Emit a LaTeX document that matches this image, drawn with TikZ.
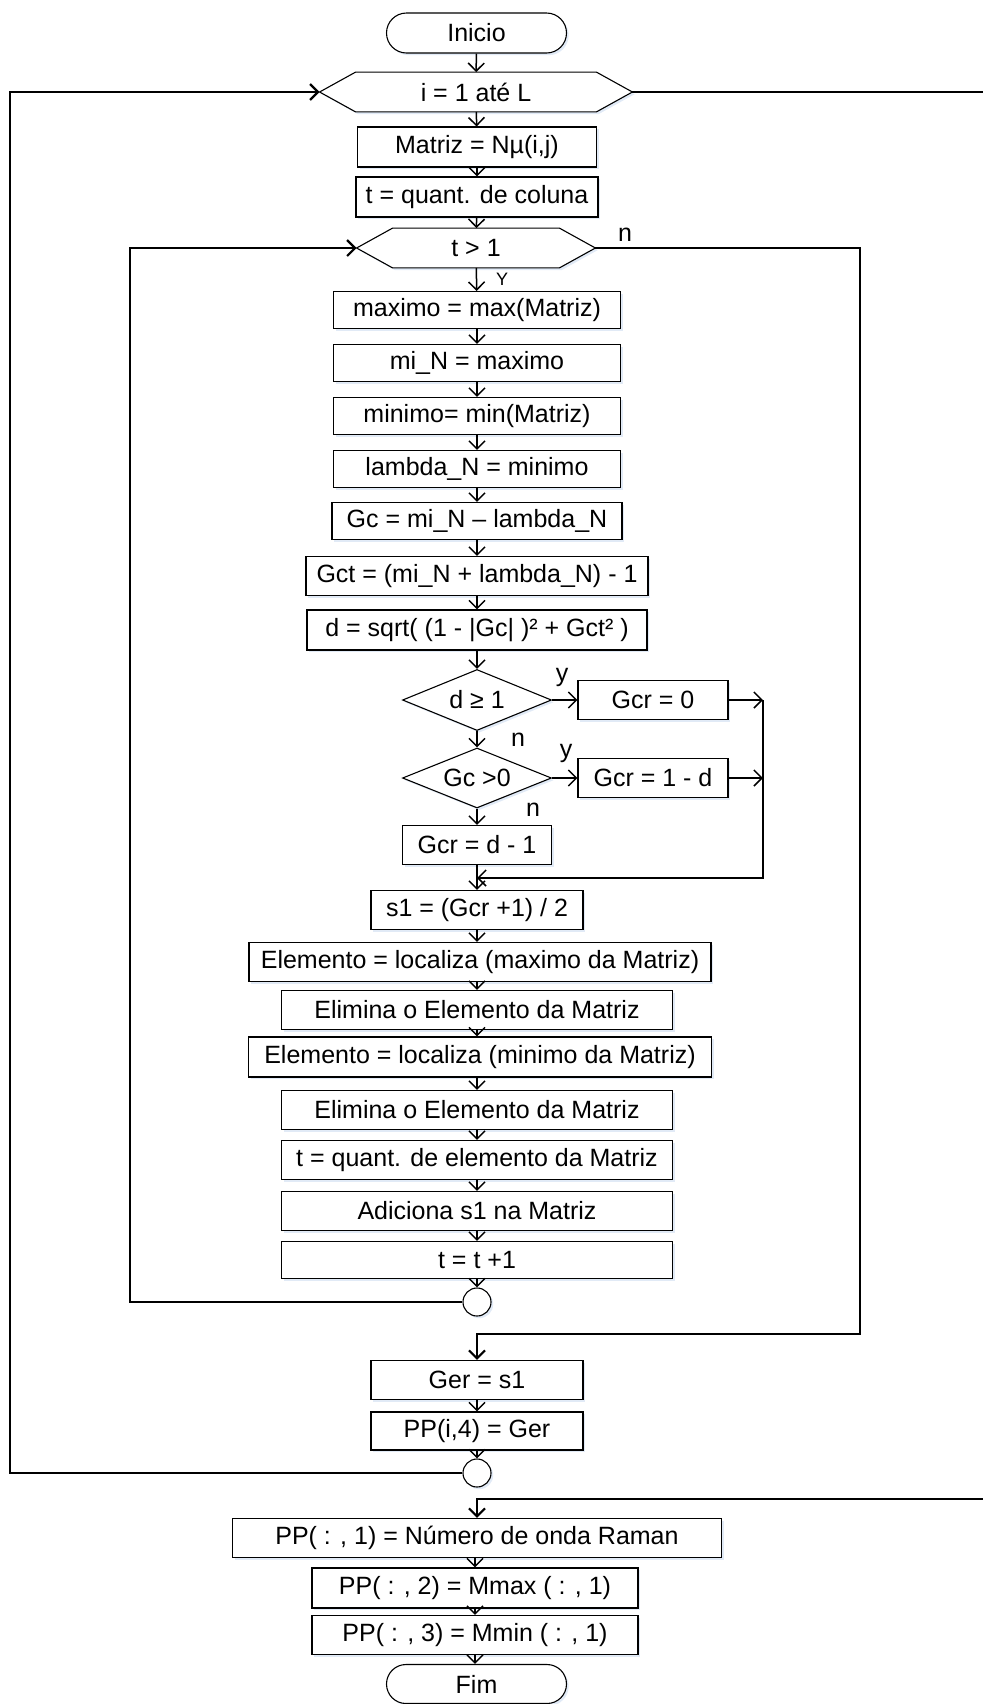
\documentclass[tikz,border=0pt]{standalone}
\usepackage{fontspec}
\setmainfont{Liberation Sans}
\usetikzlibrary{shapes.geometric,shapes.misc,arrows.meta,shadows,calc,backgrounds}
\definecolor{shadowblue}{RGB}{205,220,240}

\begin{document}
\begin{tikzpicture}[x=0.5pt,y=-0.5pt,
  font=\fontsize{12.5}{15}\selectfont,
  boxshadow/.style={drop shadow={shadow xshift=1.1pt,shadow yshift=-1.1pt,fill=shadowblue,opacity=0.6}},
  proc/.style={draw,line width=0.55pt,fill=white,rectangle,inner sep=0pt,
    minimum height=19.5pt,boxshadow},
  term/.style={draw,line width=0.55pt,fill=white,rounded rectangle,inner sep=0pt,
    minimum width=90pt,minimum height=20pt,boxshadow},
  dec/.style={draw,line width=0.55pt,fill=white,diamond,aspect=2.44,inner sep=0pt,
    minimum width=74.5pt,minimum height=30.5pt,boxshadow},
  hexbox/.style={rectangle,inner sep=0pt,minimum height=19.5pt},
  hexline/.style={draw,line width=0.55pt,fill=white,boxshadow},
  joint/.style={draw,line width=0.55pt,fill=white,circle,inner sep=0pt,minimum size=14pt,boxshadow},
  arr/.style={-{Straight Barb[length=4pt,width=8pt]},line width=0.75pt},
  looparr/.style={arr,line width=1.1pt},
  lab/.style={inner sep=0pt},
  smalllab/.style={inner sep=0pt,font=\fontsize{9}{11}\selectfont}
]
\useasboundingbox (0,0) rectangle (983,1704);

% ---- outer loop header ----
\node[term] (inicio) at (476.5,33) {Inicio};
\node[hexbox,minimum width=156pt] (hex1) at (476,92) {i = 1 até L};
\node[proc,minimum width=119.5pt,minimum height=20pt] (matriz) at (477,147) {Matriz = Nµ(i,j)};
\node[proc,minimum width=121pt,minimum height=20pt] (tq) at (477,197) {t = quant. de coluna};

% ---- inner loop ----
\node[hexbox,minimum width=119pt] (hex2) at (476,248) {t > 1};
\node[proc,minimum width=143.5pt,minimum height=18.5pt] (maximo) at (477,310) {maximo = max(Matriz)};
\node[proc,minimum width=143.5pt,minimum height=18.5pt] (miN) at (477,363) {mi\_N = maximo};
\node[proc,minimum width=143.5pt,minimum height=18.5pt] (minimo) at (477,416) {minimo= min(Matriz)};
\node[proc,minimum width=143.5pt,minimum height=18.5pt] (lambda) at (477,469) {lambda\_N = minimo};
\node[proc,minimum width=145pt,minimum height=18.5pt] (gc) at (477,521) {Gc = mi\_N – lambda\_N};
\node[proc,minimum width=171pt] (gct) at (477,576) {Gct = (mi\_N + lambda\_N) - 1};
\node[proc,minimum width=170pt,minimum height=20pt] (dsq) at (477,630) {d = sqrt( (1 - |Gc| )² + Gct² )};

\node[dec] (d1) at (477,700) {d ≥ 1};
\node[proc,minimum width=75pt] (gcr0) at (653,700) {Gcr = 0};
\node[dec,minimum height=30pt] (d2) at (477,778) {Gc >0};
\node[proc,minimum width=75pt] (gcr1) at (653,778) {Gcr = 1 - d};
\node[proc,minimum width=74.5pt] (gcr2) at (477,845) {Gcr = d - 1};
\coordinate (merge) at (763,878);

\node[proc,minimum width=106pt] (s1) at (477,910) {s1 = (Gcr +1) / 2};
\node[proc,minimum width=231pt] (el1) at (480,962) {Elemento = localiza (maximo da Matriz)};
\node[proc,minimum width=195.5pt] (elim1) at (477,1010) {Elimina o Elemento da Matriz};
\node[proc,minimum width=231.5pt,minimum height=20pt] (el2) at (480,1057) {Elemento = localiza (minimo da Matriz)};
\node[proc,minimum width=195.5pt] (elim2) at (477,1110) {Elimina o Elemento da Matriz};
\node[proc,minimum width=195.5pt] (tq2) at (477,1160) {t = quant. de elemento da Matriz};
\node[proc,minimum width=195.5pt] (adic) at (477,1211) {Adiciona s1 na Matriz};
\node[proc,minimum width=195.5pt,minimum height=18.5pt] (tt1) at (477,1260) {t = t +1};
\node[joint] (c1) at (477,1302) {};

% ---- after the inner loop ----
\node[proc,minimum width=106pt] (ger) at (477,1380) {Ger = s1};
\node[proc,minimum width=106pt,minimum height=19pt] (pp4) at (477,1431) {PP(i,4) = Ger};
\node[joint] (c2) at (477,1473) {};

% ---- after the outer loop ----
\node[proc,minimum width=244.5pt] (pp1) at (477,1538) {PP( : , 1) = Número de onda Raman};
\node[proc,minimum width=163pt,minimum height=20pt] (pp2) at (475,1588) {PP( : , 2) = Mmax ( : , 1)};
\node[proc,minimum width=163pt] (pp3) at (475,1635) {PP( : , 3) = Mmin ( : , 1)};
\node[term,minimum height=19.5pt] (fim) at (476.5,1684) {Fim};

% hexagonal loop headers
\begin{pgfonlayer}{background}
  \foreach \h in {hex1,hex2}{
    \path[hexline] (\h.west) -- ($(\h.north west)+(36,0)$) -- ($(\h.north east)+(-36,0)$)
      -- (\h.east) -- ($(\h.south east)+(-36,0)$) -- ($(\h.south west)+(36,0)$) -- cycle;
  }
\end{pgfonlayer}

% ---- main flow ----
\draw[arr] (inicio) -- (hex1);
\draw[arr] (hex1) -- (matriz);
\draw[arr] (matriz) -- (tq);
\draw[arr] (tq) -- (hex2);
\draw[arr] (hex2) -- (maximo);
\node[smalllab] at (502,279) {Y};
\draw[arr] (maximo) -- (miN);
\draw[arr] (miN) -- (minimo);
\draw[arr] (minimo) -- (lambda);
\draw[arr] (lambda) -- (gc);
\draw[arr] (gc) -- (gct);
\draw[arr] (gct) -- (dsq);
\draw[arr] (dsq) -- (d1);

% decisions
\draw[arr] (d1.east) -- (gcr0.west);
\node[lab] at (562,677) {y};
\draw[arr] (d1.south) -- (d2.north);
\node[lab] at (518,740) {n};
\draw[arr] (d2.east) -- (gcr1.west);
\node[lab] at (566,753) {y};
\draw[arr] (d2.south) -- (gcr2.north);
\node[lab] at (533,810) {n};
\draw[arr] (gcr0.east) -- (gcr0.east -| merge);
\draw[arr] (gcr1.east) -- (gcr1.east -| merge);
\draw[arr] (gcr0.east -| merge) -- (merge) -- (merge -| gcr2.south);
\draw[arr] (gcr2) -- (s1);

\draw[arr] (s1) -- (el1.north -| s1);
\draw[arr] (el1.south -| elim1) -- (elim1);
\draw[arr] (elim1) -- (el2.north -| elim1);
\draw[arr] (el2.south -| elim2) -- (elim2);
\draw[arr] (elim2) -- (tq2);
\draw[arr] (tq2) -- (adic);
\draw[arr] (adic) -- (tt1);
\draw[arr] (tt1) -- (c1);

% inner loop return and exit
\coordinate (innerL) at (130,800);
\coordinate (innerR) at (860,800);
\coordinate (innerExit) at (477,1334);
\draw[looparr] (c1.west) -| (innerL) |- (hex2.west);
\draw[looparr] (hex2.east) -| (innerR) |- (innerExit) -- (ger.north);
\node[lab] at (625,235) {n};

\draw[arr] (ger) -- (pp4);
\draw[arr] (pp4) -- (c2);

% outer loop return and exit
\coordinate (outerL) at (10,800);
\coordinate (outerR) at (992,800);
\coordinate (outerExit) at (477,1499);
\draw[looparr] (c2.west) -| (outerL) |- (hex1.west);
\draw[looparr] (hex1.east) -| (outerR) |- (outerExit) -- (pp1.north);

\draw[arr] (pp1.south -| pp2) -- (pp2);
\draw[arr] (pp2) -- (pp3);
\draw[arr] (pp3) -- (fim.north -| pp3);
\end{tikzpicture}
\end{document}
